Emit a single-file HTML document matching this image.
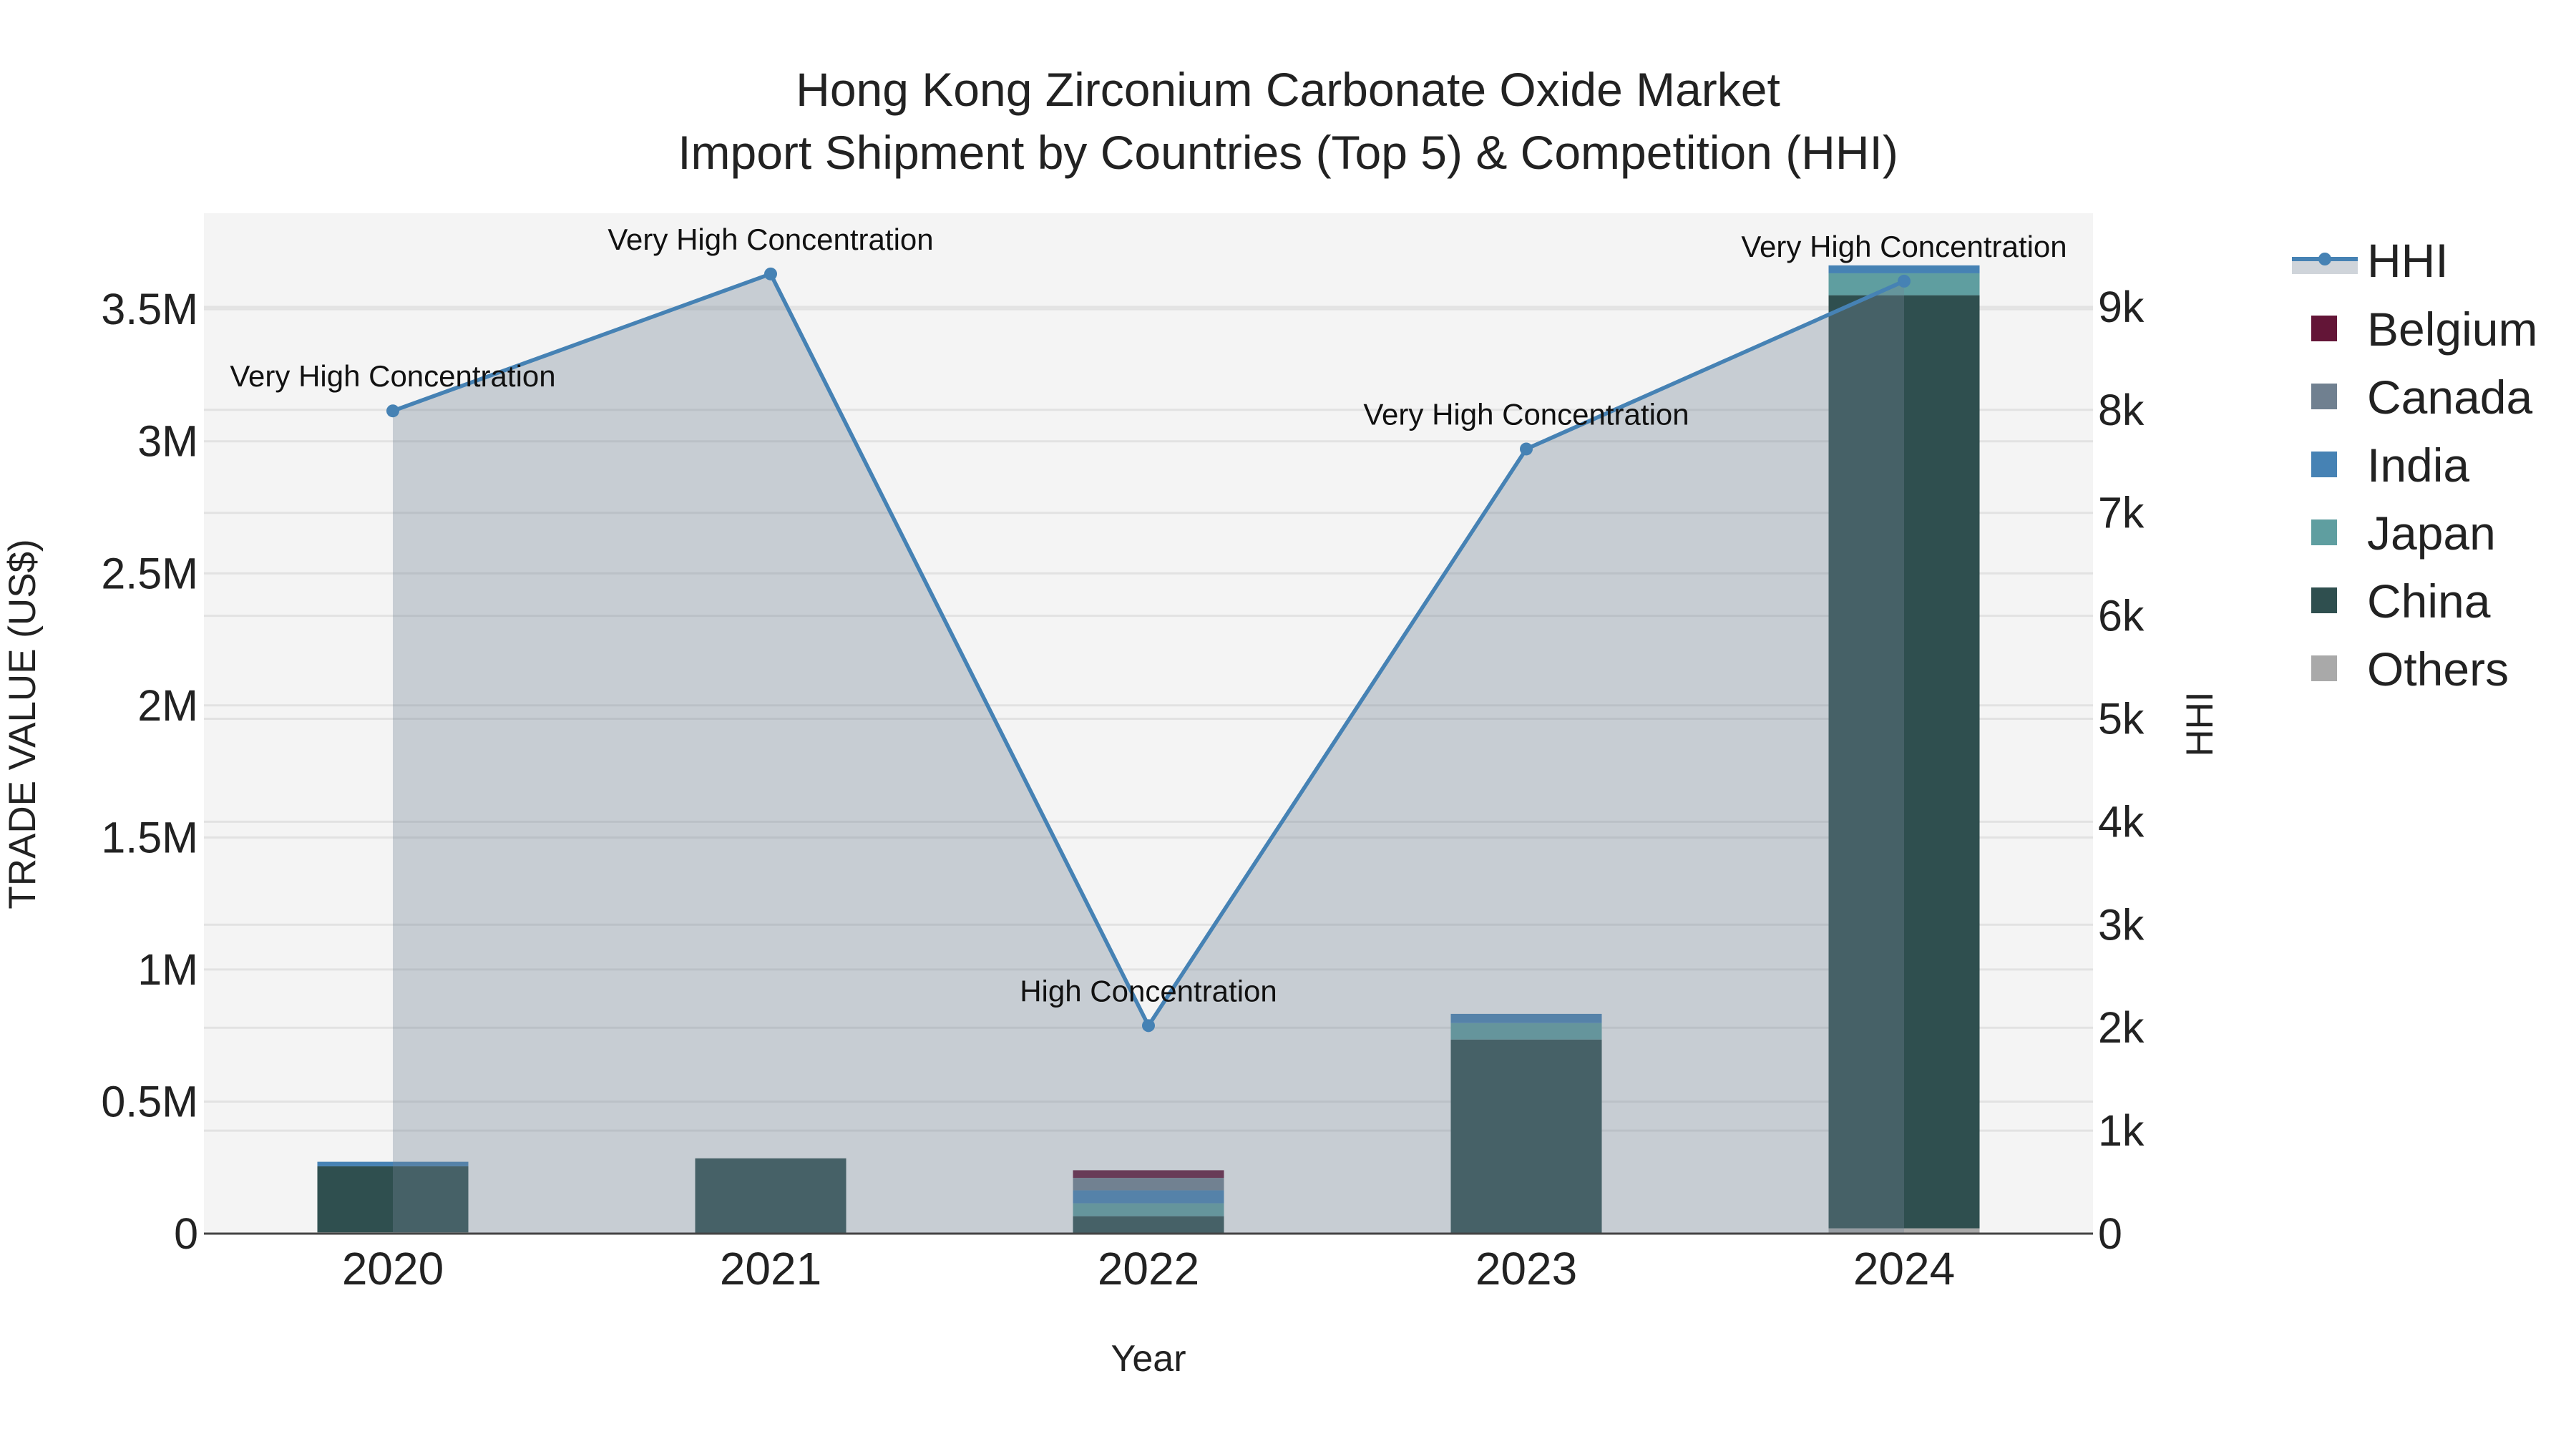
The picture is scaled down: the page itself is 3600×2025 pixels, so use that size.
<!DOCTYPE html>
<html><head><meta charset="utf-8"><style>
html,body{margin:0;padding:0;background:#fff;}
svg{display:block;font-family:"Liberation Sans",Arial,sans-serif;}
</style></head><body>
<svg id="chart" width="3600" height="2025" viewBox="0 0 3600 2025" xmlns="http://www.w3.org/2000/svg">
<rect x="0" y="0" width="3600" height="2025" fill="#fff"/>
<rect x="285" y="298" width="2640" height="1426" fill="#f4f4f4"/>
<g id="grid"></g><g id="bars"></g><g id="hhi"></g><g id="axes"></g>
<text x="1800" y="148" text-anchor="middle" font-size="66" fill="#222">Hong Kong Zirconium Carbonate Oxide Market</text>
<text x="1800" y="236" text-anchor="middle" font-size="66" fill="#222">Import Shipment by Countries (Top 5) &amp; Competition (HHI)</text>
<text x="1605" y="1916" text-anchor="middle" font-size="52" fill="#222">Year</text>
<text transform="translate(49,1012) rotate(-90)" text-anchor="middle" font-size="53" fill="#222">TRADE VALUE (US$)</text>
<text transform="translate(3092,1012) rotate(-90)" text-anchor="middle" font-size="53" fill="#222">HHI</text>
<g id="legend"></g>
</svg>
<script>
const years = ["2020","2021","2022","2023","2024"];
const seriesNames = ["Others","China","Japan","India","Canada","Belgium"];
const others = [0.005, 0.0, 0.003, 0.003, 0.02];
const china = [0.25, 0.285, 0.063, 0.732, 3.533];
const japan = [0, 0, 0.049, 0.062, 0.083];
const india = [0.017, 0, 0.049, 0.035, 0.03];
const canada = [0, 0, 0.047, 0, 0];
const belgium = [0, 0, 0.029, 0, 0];
const hhi = [7990, 9320, 2020, 7620, 9250];
const hhiLabels = ["Very High Concentration","Very High Concentration","High Concentration","Very High Concentration","Very High Concentration"];
const leftTicks = [0, 0.5, 1, 1.5, 2, 2.5, 3, 3.5];
const leftTickLabels = ["0","0.5M","1M","1.5M","2M","2.5M","3M","3.5M"];
const rightTicks = [0,1000,2000,3000,4000,5000,6000,7000,8000,9000];
const rightTickLabels = ["0","1k","2k","3k","4k","5k","6k","7k","8k","9k"];

const NS="http://www.w3.org/2000/svg";
const X0=285,X1=2925,Y0=1724,YT=298;
const yL=v=>Y0-v*369.1;
const yR=v=>Y0-v*0.1439;
const band=(X1-X0)/years.length;
const xC=i=>X0+band*(i+0.5);
const BW=211;
function mk(tag,attrs,parent){const e=document.createElementNS(NS,tag);for(const k in attrs)e.setAttribute(k,attrs[k]);parent.appendChild(e);return e;}
const grid=document.getElementById('grid'),bars=document.getElementById('bars'),hg=document.getElementById('hhi'),ax=document.getElementById('axes'),lg=document.getElementById('legend');

leftTicks.forEach((t,i)=>{
  if(t>0){const l=mk('line',{x1:X0,x2:X1,y1:yL(t),y2:yL(t),stroke:'#e2e2e2','stroke-width':3},grid);
  
  }
  const tx=mk('text',{x:277,y:yL(t)+21,'text-anchor':'end','font-size':61,fill:'#222'},ax);
  tx.textContent=leftTickLabels[i];
  
  
});
rightTicks.forEach((t,i)=>{
  if(t>0){const l=mk('line',{x1:X0,x2:X1,y1:yR(t),y2:yR(t),stroke:'#e2e2e2','stroke-width':3},grid);
  
  }
  const tx=mk('text',{x:2932,y:yR(t)+21,'text-anchor':'start','font-size':61,fill:'#222'},ax);
  tx.textContent=rightTickLabels[i];
  
  
});
years.forEach((y,i)=>{
  const tx=mk('text',{x:xC(i),y:1795,'text-anchor':'middle','font-size':64,fill:'#222'},ax);
  tx.textContent=y;
  
  
});

const colors={Others:'#a9a9a9',China:'#2f4f4f',Japan:'#5f9ea0',India:'#4682b4',Canada:'#708090',Belgium:'#631537'};
const data={Others:others,China:china,Japan:japan,India:india,Canada:canada,Belgium:belgium};
years.forEach((y,i)=>{
  let base=0;
  seriesNames.forEach(s=>{
    const v=data[s][i]; if(v<=0) return;
    const r=mk('rect',{x:xC(i)-BW/2,y:yL(base+v),width:BW,height:yL(base)-yL(base+v),fill:colors[s]},bars);
    
    
    base+=v;
  });
});

let pts=hhi.map((v,i)=>[xC(i),yR(v)]);
let d='M'+xC(0)+','+Y0+' '+pts.map(p=>'L'+p[0]+','+p[1]).join(' ')+' L'+xC(hhi.length-1)+','+Y0+' Z';
const area=mk('path',{d:d,fill:'rgba(116,131,150,0.35)'},hg);


const line=mk('polyline',{points:pts.map(p=>p.join(',')).join(' '),fill:'none',stroke:'#4682b4','stroke-width':5.5},hg);


pts.forEach((p,i)=>{
  const c=mk('circle',{cx:p[0],cy:p[1],r:9,fill:'#4682b4'},hg);
  
  
  const t=mk('text',{x:p[0],y:p[1]-34,'text-anchor':'middle','font-size':42,fill:'#111'},hg);
  t.textContent=hhiLabels[i];
  
  
});
const zl=mk('line',{x1:X0,x2:X1,y1:Y0,y2:Y0,stroke:'#444','stroke-width':3},ax);



const lr=mk('rect',{x:3203,y:363,width:92,height:20,fill:'#cfd4da'},lg);


const ll=mk('line',{x1:3203,x2:3295,y1:362,y2:362,stroke:'#4682b4','stroke-width':6},lg);


const lc=mk('circle',{cx:3249,cy:362,r:9,fill:'#4682b4'},lg);


const lt=mk('text',{x:3308,y:387,'font-size':66,fill:'#222'},lg);
lt.textContent='HHI';


const legOrder=["Belgium","Canada","India","Japan","China","Others"];
legOrder.forEach((s,i)=>{
  const y=459+i*95;
  const r=mk('rect',{x:3230,y:y-18,width:36,height:36,fill:colors[s]},lg);
  
  
  const t=mk('text',{x:3308,y:y+24,'font-size':66,fill:'#222'},lg);
  t.textContent=s;
  
  
});
</script>
</body></html>
